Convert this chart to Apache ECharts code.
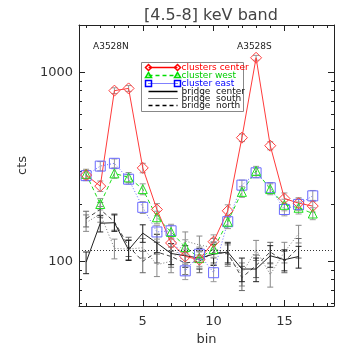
<!DOCTYPE html>
<html>
<head>
<meta charset="utf-8">
<script src="https://cdn.jsdelivr.net/npm/echarts@6/dist/echarts.min.js"></script>
<style>
  html, body { margin: 0; padding: 0; background: #fff; }
  #chart { width: 357px; height: 357px; }
</style>
</head>
<body>
<div id="chart"></div>
<script>
// bins
const binsCluster = [1, 2, 3, 4, 5, 6, 7, 8, 9, 10, 11, 12, 13, 14, 15, 16, 17];
const binsBridge = [1, 2, 3, 4, 5, 6, 7, 8, 9, 10, 11, 12, 13, 14, 15, 16];

// counts
const clustersCenter = [286, 250, 800, 822, 312, 188, 125, 106, 102, 127, 185, 451, 1194, 409, 215, 203, 196];
const clustersCenterErr = [17, 16, 28, 29, 18, 14, 11, 10, 10, 11, 14, 21, 35, 20, 15, 14, 14];
const clusterWest = [290, 201, 292, 278, 241, 171, 143, 119, 104, 116, 162, 233, 301, 241, 199, 192, 179];
const clusterWestErr = [17, 14, 17, 17, 16, 13, 12, 11, 10, 11, 13, 15, 17, 16, 14, 14, 13];
const clusterEast = [284, 319, 330, 272, 193, 143, 145, 89, 109, 87, 162, 253, 294, 245, 188, 200, 222];
const clusterEastErr = [17, 18, 18, 16, 14, 12, 12, 9, 10, 9, 13, 16, 17, 16, 14, 14, 15];

const bridgeCenter = [99, 159, 160, 115, 141, 125, 110, 107, 104, 109, 112, 91, 91, 107, 102, 106];
const bridgeCenterErr = [13, 16, 16, 14, 15, 14, 14, 14, 13, 14, 14, 13, 13, 14, 13, 14];
const bridgeSouth = [160, 178, 117, 116, 118, 96, 100, 128, 122, 118, 108, 86, 115, 85, 112, 140];
const bridgeSouthErr = [16, 17, 14, 14, 14, 13, 13, 15, 14, 14, 14, 12, 14, 12, 14, 15];
const bridgeNorth = [168, 188, 162, 120, 100, 112, 106, 98, 100, 112, 110, 82, 95, 112, 100, 118];
const bridgeNorthErr = [16, 17, 16, 14, 13, 14, 13, 13, 13, 14, 14, 12, 13, 14, 13, 14];

const refLevel = 114;

// axis ticks
const xMajor = [5, 10, 15];
const xMinor = [1, 2, 3, 4, 6, 7, 8, 9, 11, 12, 13, 14, 16, 17, 18];
const yMajor = [100, 1000];
const yMinor = [60, 70, 80, 90, 200, 300, 400, 500, 600, 700, 800, 900];

const RED = '#ff3b3b';
const GREEN = '#1ee01e';
const BLUE = '#6a6aff';
const INK = '#222';

function pairs(xs, ys) {
  return xs.map((x, i) => [x, ys[i]]);
}
function errData(xs, ys, es) {
  return xs.map((x, i) => [x, ys[i] - es[i], ys[i] + es[i]]);
}
function errRender(color) {
  return function (params, api) {
    const x = api.value(0);
    const lo = api.coord([x, api.value(1)]);
    const hi = api.coord([x, api.value(2)]);
    const w = 3;
    const st = { stroke: color, lineWidth: 1 };
    return {
      type: 'group',
      children: [
        { type: 'line', shape: { x1: lo[0], y1: lo[1], x2: hi[0], y2: hi[1] }, style: st },
        { type: 'line', shape: { x1: lo[0] - w, y1: lo[1], x2: lo[0] + w, y2: lo[1] }, style: st },
        { type: 'line', shape: { x1: hi[0] - w, y1: hi[1], x2: hi[0] + w, y2: hi[1] }, style: st },
      ],
    };
  };
}
function errSeries(xs, ys, es, color) {
  return {
    type: 'custom',
    renderItem: errRender(color),
    data: errData(xs, ys, es),
    encode: { x: 0, y: [1, 2] },
    silent: true,
    z: 1,
  };
}
function lineSeries(name, xs, ys, color, type, symbol, size) {
  return {
    name: name,
    type: 'line',
    data: pairs(xs, ys),
    symbol: symbol || 'none',
    symbolSize: size || 0,
    showSymbol: !!symbol,
    lineStyle: { color: color, width: 1, type: type },
    itemStyle: { color: 'rgba(0,0,0,0)', borderColor: color, borderWidth: 1 },
    silent: true,
    animation: false,
    z: 3,
  };
}

const xBase = { type: 'value', min: 0.5, max: 18.5, splitLine: { show: false } };
const yBase = { type: 'log', logBase: 10, min: 58, max: 1780, splitLine: { show: false } };
const lineOn = { show: true, lineStyle: { color: INK, width: 1 } };

const chart = echarts.init(document.getElementById('chart'));
const option = {
  animation: false,
  backgroundColor: '#fff',
  title: {
    text: '[4.5-8] keV band',
    left: 206, top: 3, textAlign: 'center',
    textStyle: { fontFamily: 'DejaVu Sans', fontSize: 16, fontWeight: 'normal', color: '#444' },
  },
  grid: { left: 79, right: 23, top: 25, bottom: 51 },
  xAxis: [
    Object.assign({}, xBase, {
      position: 'bottom',
      axisLine: lineOn,
      axisTick: { show: true, inside: true, length: 6, customValues: xMajor, lineStyle: { color: INK } },
      axisLabel: { show: true, customValues: xMajor, fontSize: 13, color: '#333', margin: 9, fontFamily: 'DejaVu Sans' },
      name: 'bin', nameLocation: 'middle', nameGap: 24,
      nameTextStyle: { fontSize: 13, color: '#333', fontFamily: 'DejaVu Sans' },
    }),
    Object.assign({}, xBase, {
      position: 'top',
      axisLine: lineOn,
      axisTick: { show: true, inside: true, length: 6, customValues: xMajor, lineStyle: { color: INK } },
      axisLabel: { show: false },
    }),
    Object.assign({}, xBase, {
      position: 'top', // flips to bottom (already used)
      axisLine: { show: false },
      axisTick: { show: true, inside: true, length: 3, customValues: xMinor, lineStyle: { color: INK } },
      axisLabel: { show: false },
    }),
    Object.assign({}, xBase, {
      position: 'bottom', // flips to top
      axisLine: { show: false },
      axisTick: { show: true, inside: true, length: 3, customValues: xMinor, lineStyle: { color: INK } },
      axisLabel: { show: false },
    }),
  ],
  yAxis: [
    Object.assign({}, yBase, {
      position: 'left',
      axisLine: lineOn,
      axisTick: { show: true, inside: true, length: 6, customValues: yMajor, lineStyle: { color: INK } },
      axisLabel: { show: true, customValues: yMajor, fontSize: 13, color: '#333', margin: 6, fontFamily: 'DejaVu Sans',
        formatter: (v) => String(Math.round(v)) },
      name: 'cts', nameLocation: 'middle', nameGap: 48, nameRotate: 90,
      nameTextStyle: { fontSize: 13, color: '#333', fontFamily: 'DejaVu Sans' },
    }),
    Object.assign({}, yBase, {
      position: 'right',
      axisLine: lineOn,
      axisTick: { show: true, inside: true, length: 6, customValues: yMajor, lineStyle: { color: INK } },
      axisLabel: { show: false },
    }),
    Object.assign({}, yBase, {
      position: 'right', // flips to left
      axisLine: { show: false },
      axisTick: { show: true, inside: true, length: 3, customValues: yMinor, lineStyle: { color: INK } },
      axisLabel: { show: false },
    }),
    Object.assign({}, yBase, {
      position: 'left', // flips to right
      axisLine: { show: false },
      axisTick: { show: true, inside: true, length: 3, customValues: yMinor, lineStyle: { color: INK } },
      axisLabel: { show: false },
    }),
  ],
  series: [
    errSeries(binsBridge, bridgeSouth, bridgeSouthErr, '#888'),
    errSeries(binsBridge, bridgeNorth, bridgeNorthErr, '#666'),
    errSeries(binsBridge, bridgeCenter, bridgeCenterErr, '#222'),
    errSeries(binsCluster, clusterEast, clusterEastErr, '#999'),
    errSeries(binsCluster, clusterWest, clusterWestErr, '#999'),
    errSeries(binsCluster, clustersCenter, clustersCenterErr, '#999'),
    lineSeries('bridge south', binsBridge, bridgeSouth, '#777', [1, 2]),
    lineSeries('bridge north', binsBridge, bridgeNorth, '#444', [4, 3]),
    Object.assign(lineSeries('bridge center', binsBridge, bridgeCenter, '#222', 'solid'), {
      markLine: {
        silent: true, symbol: 'none', label: { show: false },
        lineStyle: { color: '#333', type: [1, 2], width: 1 },
        data: [{ yAxis: refLevel }],
      },
    }),
    lineSeries('cluster east', binsCluster, clusterEast, BLUE, [1, 2], 'rect', 10),
    lineSeries('cluster west', binsCluster, clusterWest, GREEN, [4, 3], 'triangle', 9),
    lineSeries('clusters center', binsCluster, clustersCenter, RED, 'solid', 'diamond', 11),
  ],
  graphic: [
    { type: 'text', left: 93, top: 42, style: { text: 'A3528N', fontSize: 9, fill: '#222', fontFamily: 'DejaVu Sans' } },
    { type: 'text', left: 237, top: 42, style: { text: 'A3528S', fontSize: 9, fill: '#222', fontFamily: 'DejaVu Sans' } },
    {
      type: 'group', left: 141, top: 62,
      children: [
        { type: 'rect', shape: { x: 0, y: 0, width: 102, height: 49 }, style: { fill: '#fff', stroke: '#888', lineWidth: 1 } },
        // row 1
        { type: 'line', shape: { x1: 7, y1: 5, x2: 36, y2: 5 }, style: { stroke: '#ff0000', lineWidth: 1.5 } },
        { type: 'polygon', shape: { points: [[7, 2], [10, 5], [7, 8], [4, 5]] }, style: { fill: 'none', stroke: '#ff0000', lineWidth: 1.5 } },
        { type: 'polygon', shape: { points: [[36, 2], [39, 5], [36, 8], [33, 5]] }, style: { fill: 'none', stroke: '#ff0000', lineWidth: 1.5 } },
        { type: 'text', left: 40, top: 1, style: { text: 'clusters center', fontSize: 9, fill: '#ff0000', fontFamily: 'DejaVu Sans' } },
        // row 2
        { type: 'line', shape: { x1: 7, y1: 13, x2: 36, y2: 13 }, style: { stroke: '#00dd00', lineWidth: 1.5, lineDash: [4, 3] } },
        { type: 'polygon', shape: { points: [[7, 10], [10, 15], [4, 15]] }, style: { fill: 'none', stroke: '#00dd00', lineWidth: 1.5 } },
        { type: 'polygon', shape: { points: [[36, 10], [39, 15], [33, 15]] }, style: { fill: 'none', stroke: '#00dd00', lineWidth: 1.5 } },
        { type: 'text', left: 40, top: 9, style: { text: 'cluster west', fontSize: 9, fill: '#00cc00', fontFamily: 'DejaVu Sans' } },
        // row 3
        { type: 'line', shape: { x1: 7, y1: 21, x2: 36, y2: 21 }, style: { stroke: '#0000ff', lineWidth: 1, lineDash: [1, 1] } },
        { type: 'rect', shape: { x: 4, y: 18, width: 6, height: 6 }, style: { fill: 'none', stroke: '#0000ff', lineWidth: 1.5 } },
        { type: 'rect', shape: { x: 33, y: 18, width: 6, height: 6 }, style: { fill: 'none', stroke: '#0000ff', lineWidth: 1.5 } },
        { type: 'text', left: 40, top: 17, style: { text: 'cluster east', fontSize: 9, fill: '#0000ff', fontFamily: 'DejaVu Sans' } },
        // rows 4-6
        { type: 'line', shape: { x1: 7, y1: 29, x2: 36, y2: 29 }, style: { stroke: '#000', lineWidth: 1.5 } },
        { type: 'text', left: 40, top: 24.5, style: { text: 'bridge  center', fontSize: 9, fill: '#111', fontFamily: 'DejaVu Sans' } },
        { type: 'line', shape: { x1: 7, y1: 36, x2: 36, y2: 36 }, style: { stroke: '#000', lineWidth: 1, lineDash: [1, 1] } },
        { type: 'text', left: 40, top: 31.5, style: { text: 'bridge  south', fontSize: 9, fill: '#111', fontFamily: 'DejaVu Sans' } },
        { type: 'line', shape: { x1: 7, y1: 43, x2: 36, y2: 43 }, style: { stroke: '#000', lineWidth: 1.5, lineDash: [4, 3] } },
        { type: 'text', left: 40, top: 38.5, style: { text: 'bridge  north', fontSize: 9, fill: '#111', fontFamily: 'DejaVu Sans' } },
      ],
    },
  ],
};
chart.setOption(option);
</script>
</body>
</html>
